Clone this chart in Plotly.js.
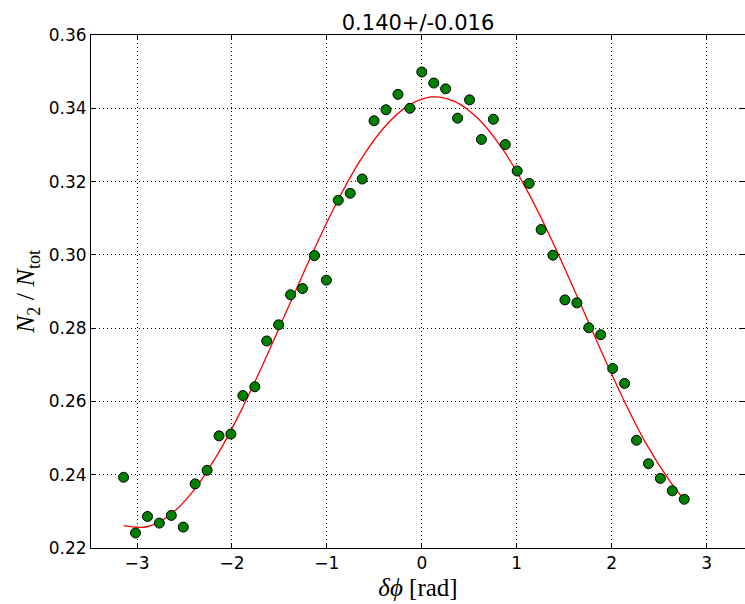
<!DOCTYPE html>
<html>
<head>
<meta charset="utf-8">
<script src="https://cdn.plot.ly/plotly-3.0.1.min.js"></script>
<style>html,body{margin:0;padding:0;background:#fff;}#chart{width:745px;height:604px;}</style>
</head>
<body>
<div id="chart"></div>
<script>
// measured points: delta phi [rad] and N2/Ntot
const dphi = [-3.142, -3.016, -2.890, -2.765, -2.639, -2.513, -2.388, -2.262, -2.136, -2.011,
              -1.885, -1.759, -1.634, -1.508, -1.382, -1.257, -1.131, -1.005, -0.880, -0.754,
              -0.628, -0.503, -0.377, -0.251, -0.126, 0.000, 0.126, 0.251, 0.377, 0.503,
              0.628, 0.754, 0.880, 1.005, 1.131, 1.257, 1.382, 1.508, 1.634, 1.759,
              1.885, 2.011, 2.136, 2.262, 2.388, 2.513, 2.639, 2.765];
const ratio = [0.2393, 0.2241, 0.2286, 0.2268, 0.2289, 0.2257, 0.2375, 0.2412, 0.2506, 0.2511,
               0.2616, 0.2640, 0.2765, 0.2809, 0.2891, 0.2908, 0.2998, 0.2931, 0.3149, 0.3168,
               0.3207, 0.3366, 0.3396, 0.3438, 0.3400, 0.3499, 0.3469, 0.3453, 0.3373, 0.3423,
               0.3315, 0.3370, 0.3301, 0.3229, 0.3195, 0.3069, 0.2999, 0.2877, 0.2869, 0.2801,
               0.2782, 0.2690, 0.2649, 0.2494, 0.2430, 0.2390, 0.2356, 0.2333];

// fitted curve
const fitX = [-3.14, -2.90, -2.65, -2.40, -2.15, -1.90, -1.65, -1.40, -1.15, -0.90, -0.65, -0.40, -0.15,
              0.10, 0.35, 0.60, 0.85, 1.10, 1.35, 1.60, 1.85, 2.10, 2.35, 2.60, 2.765];
const fitY = [0.2261, 0.2258, 0.2291, 0.2358, 0.2456, 0.2577, 0.2715, 0.2861, 0.3006, 0.3141, 0.3257, 0.3347, 0.3406,
              0.3431, 0.3418, 0.3370, 0.3289, 0.3180, 0.3051, 0.2908, 0.2761, 0.2619, 0.2491, 0.2387, 0.2331];

const titleText = "0.140+/-0.016";
const xTicks = [-3, -2, -1, 0, 1, 2, 3];
const yTicks = [0.22, 0.24, 0.26, 0.28, 0.30, 0.32, 0.34, 0.36];

const traces = [
  {x: fitX, y: fitY, type: 'scatter', mode: 'lines', line: {color: '#ff0000', width: 1.3, shape: 'spline'}, hoverinfo: 'skip'},
  {x: dphi, y: ratio, type: 'scatter', mode: 'markers',
   marker: {color: '#008000', size: 10, line: {color: '#000000', width: 1}}}
];

const axisCommon = {
  showline: true, linecolor: '#000', linewidth: 1, mirror: 'ticks',
  ticks: 'inside', ticklen: 5, tickcolor: '#000', tickwidth: 1,
  showgrid: true, gridcolor: '#000', griddash: '1px,3px', gridwidth: 1,
  zeroline: false,
  tickfont: {family: 'DejaVu Sans', size: 17, color: '#000'}
};

const layout = {
  width: 745, height: 604,
  margin: {l: 91, r: 0, t: 35, b: 56},
  paper_bgcolor: '#fff', plot_bgcolor: '#fff',
  showlegend: false,
  title: {text: titleText, font: {family: 'DejaVu Sans', size: 21, color: '#000'},
          x: 0.5, xref: 'paper', xanchor: 'center', y: 1, yref: 'paper', yanchor: 'bottom', pad: {b: 5}},
  xaxis: Object.assign({}, axisCommon, {
    range: [-3.485, 3.405], tickmode: 'array', tickvals: xTicks,
    title: {text: '<i>δϕ</i> [rad]', font: {family: 'Liberation Serif', size: 25, color: '#000'}, standoff: 6}
  }),
  yaxis: Object.assign({}, axisCommon, {
    range: [0.22, 0.36], tickmode: 'array', tickvals: yTicks, tickformat: '.2f',
    title: {text: '<i>N</i><sub>2</sub> / <i>N</i><sub>tot</sub>', font: {family: 'Liberation Serif', size: 26, color: '#000'}, standoff: 6}
  })
};

Plotly.newPlot('chart', traces, layout, {staticPlot: true});
</script>
</body>
</html>
